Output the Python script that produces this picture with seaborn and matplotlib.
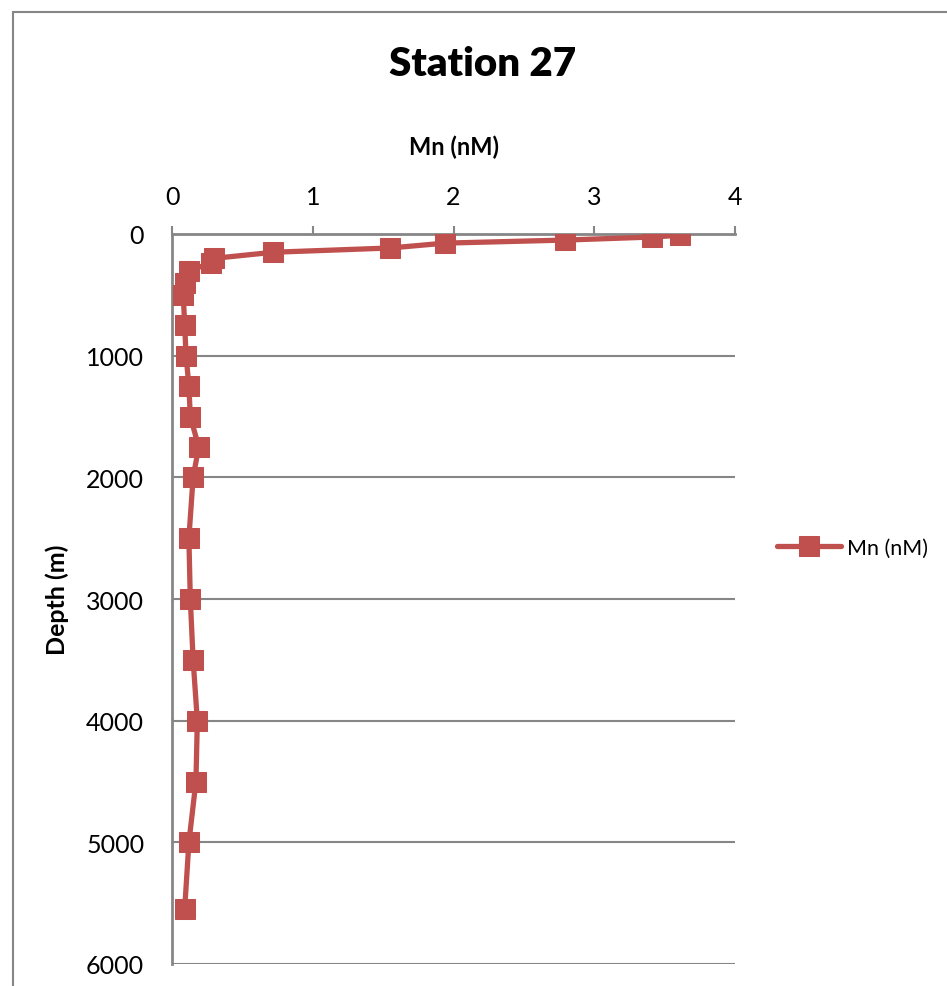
import pandas as pd
import numpy as np
import seaborn as sns
from matplotlib import pyplot as plt
from matplotlib.patches import Rectangle

# Station 27 Mn profile
depth = [10, 25, 50, 75, 115, 150, 200, 240, 300, 400, 500, 750, 1000, 1250,
         1500, 1750, 2000, 2500, 3000, 3500, 4000, 4500, 5000, 5550]
mn = [3.61, 3.41, 2.79, 1.94, 1.55, 0.72, 0.30, 0.28, 0.12, 0.09, 0.08, 0.09,
      0.10, 0.12, 0.13, 0.19, 0.15, 0.12, 0.13, 0.15, 0.18, 0.17, 0.12, 0.09]
x_ticks = [0, 1, 2, 3, 4]
y_ticks = [0, 1000, 2000, 3000, 4000, 5000, 6000]

df = pd.DataFrame({'Depth (m)': depth, 'Mn (nM)': mn})

sns.set_style('white')
plt.rcParams['font.family'] = ['Lato', 'DejaVu Sans']
plt.rcParams['text.color'] = 'black'
plt.rcParams['xtick.color'] = 'black'
plt.rcParams['ytick.color'] = 'black'
plt.rcParams['axes.labelcolor'] = 'black'

fig = plt.figure(figsize=(9.47, 9.87), dpi=100)
ax = fig.add_axes([172/947, 1-965/987, (735-172)/947, (965-235)/987])

grey = '#868686'
red = '#C0504D'

sns.lineplot(data=df, x='Mn (nM)', y='Depth (m)', sort=False, estimator=None,
             color=red, linewidth=3.8, marker='s', markersize=14,
             markeredgecolor=red, label='Mn (nM)', ax=ax, zorder=3)

ax.set_xlim(0, 4)
ax.set_ylim(6000, 0)
ax.set_xticks(x_ticks)
ax.set_yticks(y_ticks)
ax.xaxis.tick_top()
ax.xaxis.set_label_position('top')
ax.tick_params(axis='both', direction='out', length=6, width=1.5, color=grey,
               labelcolor='black', labelsize=18, pad=14)
ax.tick_params(axis='x', pad=13)
ax.yaxis.grid(True, color=grey, linewidth=1.5)
ax.xaxis.grid(False)
for s in ['right', 'bottom']:
    ax.spines[s].set_visible(False)
for s in ['left', 'top']:
    ax.spines[s].set_color(grey)
    ax.spines[s].set_linewidth(2)

ax.set_xlabel('Mn (nM)', fontsize=17, fontweight='bold', labelpad=22)
ax.set_ylabel('Depth (m)', fontsize=18, fontweight='bold', labelpad=12)
fig.suptitle('Station 27', fontsize=29, fontweight='heavy', x=483/947, y=1-64/987,
             va='center')

ax.legend(loc='center left', bbox_to_anchor=(1.04, 0.57), frameon=False,
          fontsize=15.5, handlelength=3.0, handletextpad=0.25)

# chart border
fig.patches.append(Rectangle((13/947, -0.1), 1.2, 1-13/987+0.1, transform=fig.transFigure,
                             fill=False, edgecolor=grey, linewidth=1.5))

fig.savefig('out.png', dpi=100)
